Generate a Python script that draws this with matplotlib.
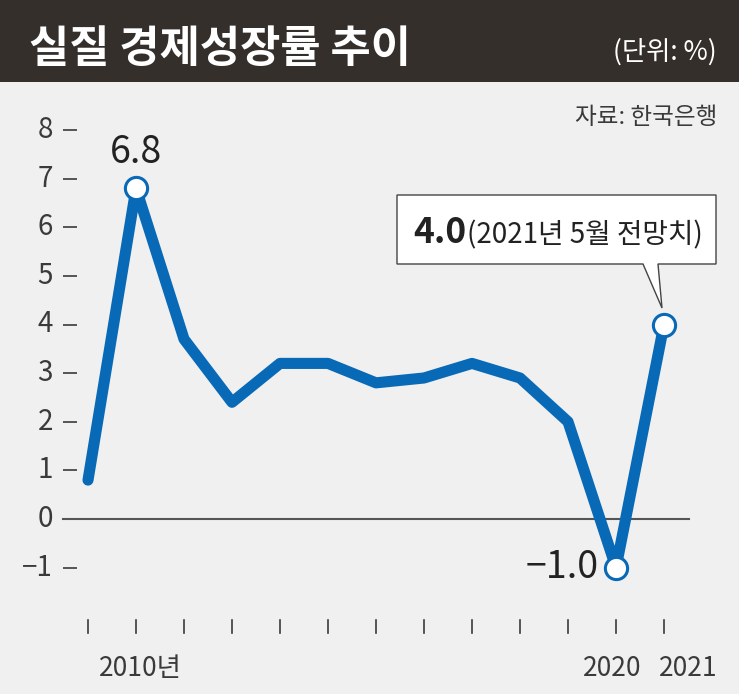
import matplotlib
matplotlib.use('Agg')
import matplotlib.pyplot as plt
import matplotlib.transforms as mtransforms
from matplotlib.patches import Rectangle, Polygon

plt.rcParams['font.family'] = ['Noto Sans CJK KR', 'DejaVu Sans']

# 실질 경제성장률 (%)
years = [2009, 2010, 2011, 2012, 2013, 2014, 2015, 2016, 2017, 2018, 2019, 2020, 2021]
growth = [0.8, 6.8, 3.7, 2.4, 3.2, 3.2, 2.8, 2.9, 3.2, 2.9, 2.0, -1.0, 4.0]
marked = [2010, 2020, 2021]
y_ticks = [-1, 0, 1, 2, 3, 4, 5, 6, 7, 8]
y_tick_labels = ['\u22121', '0', '1', '2', '3', '4', '5', '6', '7', '8']
x_labels = {2010: '2010년', 2020: '2020', 2021: '2021'}

W, H = 739, 694
BLUE = '#0869b7'
DARK = '#352f2c'
GREY = '#3a3a3a'

fig = plt.figure(figsize=(W / 100, H / 100), dpi=100)
fig.patch.set_facecolor('#f0f0f0')
# pixel transform, origin top-left
px = mtransforms.Affine2D().scale(1 / W, -1 / H).translate(0, 1) + fig.transFigure

# axes fill the whole figure; limits chosen so 2009 -> 88px, 2021 -> 664px, 0 -> 519px, 8 -> 130px
ax = fig.add_axes([0, 0, 1, 1])
ax.set_facecolor('none')
xpp = 48.0
ypp = (519 - 130) / 8
ax.set_xlim(2009 - 88 / xpp, 2009 + (W - 88) / xpp)
ax.set_ylim(-(H - 519) / ypp, 519 / ypp)
ax.axis('off')

# title bar
fig.patches.append(Rectangle((0, 0), W, 82, transform=px, facecolor=DARK, edgecolor='none', zorder=0))
fig.text(29, 62, '실질 경제성장률 추이', transform=px, color='white', fontsize=31.5,
         fontweight='heavy', ha='left', va='baseline')
fig.text(717, 60, '(단위: %)', transform=px, color='white', fontsize=19,
         ha='right', va='baseline')
fig.text(717, 124, '자료: 한국은행', transform=px, color=GREY, fontsize=17,
         ha='right', va='baseline')

# y axis labels and dashes
ytr = mtransforms.blended_transform_factory(px, ax.transData)
for v, lab in zip(y_ticks, y_tick_labels):
    ax.text(53, v, lab, transform=ytr, ha='right', va='center', fontsize=20, color=GREY)
    if v != 0:
        ax.plot([63, 77], [v, v], transform=ytr, color=GREY, lw=1.2, solid_capstyle='butt')

# zero line
ax.plot([63, 689], [0, 0], transform=ytr, color='#555555', lw=1.5, zorder=1)

# x ticks and labels
xtr = mtransforms.blended_transform_factory(ax.transData, px)
for yr in years:
    ax.plot([yr, yr], [620, 633], transform=xtr, color=GREY, lw=1.2)
ax.text(2010 + 0.1, 676, x_labels[2010], transform=xtr, ha='center', va='baseline',
        fontsize=19, color=GREY)
ax.text(2020 - 0.08, 676, x_labels[2020], transform=xtr, ha='center', va='baseline',
        fontsize=19, color=GREY)
ax.text(2021 + 0.5, 676, x_labels[2021], transform=xtr, ha='center', va='baseline',
        fontsize=19, color=GREY)

# series
ax.plot(years, growth, color=BLUE, lw=8, solid_joinstyle='round',
        solid_capstyle='round', zorder=3)
mx = [y for y in years if y in marked]
my = [g for y, g in zip(years, growth) if y in marked]
ax.plot(mx, my, 'o', ms=16, mfc='white', mec=BLUE, mew=2.2, zorder=4)

# value labels
ax.annotate('6.8', (2010, 6.8), xytext=(0, 16), textcoords='offset pixels',
            ha='center', va='bottom', fontsize=27, color='#222222')
ax.annotate('\u22121.0', (2020, -1.0), xytext=(-17, 0), textcoords='offset pixels',
            ha='right', va='center', fontsize=27, color='#222222')

# callout box
box = [(397, 195), (716, 195), (716, 264), (658, 264), (662, 308), (643, 264), (397, 264)]
fig.patches.append(Polygon(box, closed=True, transform=px, facecolor='white',
                           edgecolor='#444444', lw=1.0, zorder=5))
t1 = fig.text(413, 243, '4.0', transform=px, fontsize=25.5, fontweight='bold',
              color='#222222', ha='left', va='baseline', zorder=6)
fig.canvas.draw()
bb = t1.get_window_extent()
x_end = bb.x1 / fig.dpi * 100
fig.text(x_end + 1, 243, '(2021년 5월 전망치)', transform=px, fontsize=20,
         color='#222222', ha='left', va='baseline', zorder=6)

fig.savefig('out.png', dpi=100, facecolor=fig.get_facecolor())
